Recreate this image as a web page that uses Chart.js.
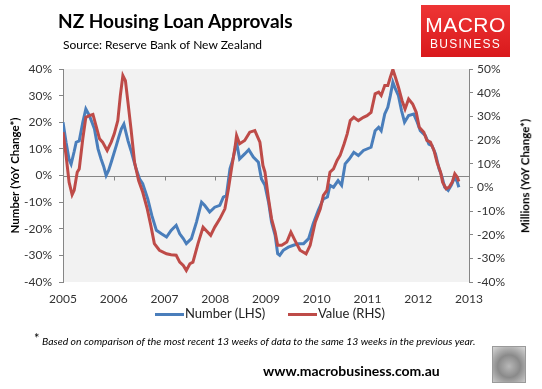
<!DOCTYPE html>
<html>
<head>
<meta charset="utf-8">
<script src="https://cdn.jsdelivr.net/npm/chart.js@4.4.1/dist/chart.umd.min.js"></script>
<style>
  html, body { margin: 0; padding: 0; background: #fff; }
  #wrap { position: relative; width: 542px; height: 389px; overflow: hidden; font-family: Lato, 'Open Sans', sans-serif; }
  #chart { position: absolute; left: 0; top: 0; }
  .txt { position: absolute; white-space: nowrap; line-height: 1; }
  #title { left: 58px; top: 11px; font-size: 19px; font-weight: 700; color: #000; }
  #source { left: 63px; top: 39px; font-size: 12px; color: #000; }
  #logo { position: absolute; left: 421px; top: 5px; width: 89px; height: 52px;
          background: linear-gradient(180deg, #ee3535 0%, #d9191c 100%); color: #fff; text-align: center;
          font-family: 'Liberation Sans', Arial, sans-serif; }
  #logo .l1 { position: absolute; left: 0; right: 0; top: 9px; font-size: 21px; line-height: 1; letter-spacing: 0.5px; }
  #logo .l2 { position: absolute; left: 0; right: 0; top: 33px; font-size: 12px; letter-spacing: 1.3px; line-height: 1; }
  #ytitle2 { left: 525px; top: 176px; font-size: 11.5px; font-weight: 700; color: #000;
             transform: translate(-50%, -50%) rotate(-90deg); }
  #legend { position: absolute; left: 0; top: 307px; width: 542px; height: 16px; font-size: 13px; color: #222; }
  #legend .item { position: absolute; top: 0; white-space: nowrap; }
  #legend .sw { position: absolute; top: 6px; width: 29px; height: 3px; }
  #legend .lb { position: absolute; top: 0; white-space: nowrap; line-height: 1; }
  #note { left: 42px; top: 336px; font-size: 10.4px; font-style: italic; color: #000; }
  #star { left: 34px; top: 332px; font-size: 13px; color: #000; }
  #url { left: 263px; top: 364px; font-size: 14px; font-weight: 700; color: #000; }
  #wolf { position: absolute; left: 492px; top: 346px; width: 32px; height: 35px; border: 1px solid #9a9a9a;
          background: radial-gradient(circle at 50% 55%, #b8b8b8 0%, #8a8a8a 45%, #d8d8d8 100%); }
</style>
</head>
<body>
<div id="wrap">
  <canvas id="chart" width="542" height="389"></canvas>
  <div class="txt" id="title">NZ Housing Loan Approvals</div>
  <div class="txt" id="source">Source: Reserve Bank of New Zealand</div>
  <div id="logo"><div class="l1">MACRO</div><div class="l2">BUSINESS</div></div>
  <div class="txt" id="ytitle2">Millions (YoY Change*)</div>
  <div id="legend"></div>
  <div class="txt" id="star">*</div>
  <div class="txt" id="note">Based on comparison of the most recent 13 weeks of data to the same 13 weeks in the previous year.</div>
  <div class="txt" id="url">www.macrobusiness.com.au</div>
  <div id="wolf"></div>
</div>
<script>
'use strict';

// ─────────────────────────────────────────────
// 1. DATA (YoY % change)
// ─────────────────────────────────────────────
const numberYears = [
  2005.00, 2005.06, 2005.12, 2005.16, 2005.22, 2005.26, 2005.32, 2005.39, 2005.45, 2005.52,
  2005.58, 2005.62, 2005.69, 2005.75, 2005.80, 2005.85, 2005.90, 2005.95, 2006.05, 2006.10,
  2006.15, 2006.20, 2006.28, 2006.34, 2006.44, 2006.51, 2006.57, 2006.67, 2006.75, 2006.84,
  2006.94, 2007.04, 2007.13, 2007.23, 2007.30, 2007.37, 2007.43, 2007.53, 2007.63, 2007.73,
  2007.79, 2007.89, 2007.99, 2008.09, 2008.16, 2008.22, 2008.29, 2008.35, 2008.42, 2008.48,
  2008.58, 2008.66, 2008.75, 2008.85, 2008.91, 2008.98, 2009.05, 2009.11, 2009.18, 2009.23,
  2009.27, 2009.34, 2009.44, 2009.54, 2009.64, 2009.74, 2009.84, 2009.93, 2010.03, 2010.13,
  2010.21, 2010.26, 2010.33, 2010.42, 2010.49, 2010.56, 2010.64, 2010.73, 2010.82, 2010.92,
  2011.07, 2011.15, 2011.22, 2011.27, 2011.34, 2011.40, 2011.45, 2011.50, 2011.55, 2011.61,
  2011.67, 2011.73, 2011.81, 2011.91, 2011.98, 2012.04, 2012.14, 2012.21, 2012.27, 2012.34,
  2012.41, 2012.47, 2012.52, 2012.59, 2012.65, 2012.72, 2012.77, 2012.80,
];
const numberValues = [
  20, 12.5, 6, 4.3, 9, 12.5, 13, 20, 25, 22.5,
  19.5, 17.5, 10, 6.2, 3.5, 0, 2, 5, 11.2, 14.5,
  17.5, 19.3, 13.1, 9.4, 2.5, -1.3, -3.1, -8.8, -15, -20.6,
  -21.9, -23.1, -20.6, -18.7, -21.9, -23.7, -25.6, -23.7, -17.5, -10,
  -11.2, -13.7, -11.9, -11.2, -8.1, -7.5, 2.5, 6.2, 12.5, 6.2,
  8.1, 9.7, 6.9, 5.0, -1.3, -3.7, -10, -17.5, -22.5, -29.4,
  -30, -28.1, -26.9, -26.2, -25.6, -25.6, -23.7, -18.1, -13.1, -8.8,
  -8.1, -3.7, -4.4, -1.9, -3.7, 4.4, 6.2, 8.7, 7.5, 9.4,
  10.6, 16.8, 18.1, 16.8, 23.1, 25.6, 30, 35, 32.5, 30,
  24.4, 20, 22.5, 23.1, 20, 16.8, 15, 11.8, 11.2, 8.1,
  2.5, -0.6, -4.4, -5.6, -3.7, -0.6, -2.5, -4.4,
];

const valueYears = [
  2005.00, 2005.06, 2005.12, 2005.18, 2005.22, 2005.28, 2005.32, 2005.39, 2005.45, 2005.52,
  2005.59, 2005.65, 2005.72, 2005.78, 2005.87, 2005.95, 2006.01, 2006.08, 2006.13, 2006.18,
  2006.23, 2006.28, 2006.34, 2006.41, 2006.49, 2006.57, 2006.66, 2006.73, 2006.80, 2006.90,
  2007.04, 2007.13, 2007.23, 2007.30, 2007.37, 2007.43, 2007.50, 2007.56, 2007.66, 2007.76,
  2007.82, 2007.91, 2007.99, 2008.09, 2008.19, 2008.26, 2008.32, 2008.39, 2008.42, 2008.48,
  2008.58, 2008.68, 2008.78, 2008.88, 2008.94, 2008.98, 2009.05, 2009.11, 2009.18, 2009.23,
  2009.31, 2009.41, 2009.49, 2009.57, 2009.67, 2009.79, 2009.87, 2009.97, 2010.07, 2010.13,
  2010.20, 2010.26, 2010.33, 2010.40, 2010.46, 2010.54, 2010.60, 2010.66, 2010.73, 2010.82,
  2010.92, 2010.99, 2011.07, 2011.15, 2011.22, 2011.27, 2011.34, 2011.40, 2011.45, 2011.50,
  2011.55, 2011.61, 2011.68, 2011.74, 2011.81, 2011.89, 2011.96, 2012.02, 2012.11, 2012.17,
  2012.24, 2012.31, 2012.37, 2012.44, 2012.48, 2012.55, 2012.61, 2012.67, 2012.72, 2012.77,
  2012.80,
];
const valueValues = [
  23.3, 13.5, 2.2, -3.1, -1.3, 6.4, 7.8, 20.5, 29.6, 30.3,
  30.8, 26.1, 20.5, 19.1, 15.6, 19.1, 22.6, 28.2, 38.8, 47.2,
  45.1, 35.9, 24.7, 10.6, 2.9, -2.0, -9.1, -16.1, -23.8, -26.6,
  -28.1, -28.5, -28.7, -31.6, -33, -35.1, -32.3, -31.6, -23.8, -16.8,
  -18.2, -20.3, -16.8, -13.3, -9.1, -0.6, 7.8, 17.0, 21.9, 18.4,
  19.8, 23.3, 24.0, 19.1, 9.2, 6.4, -4.9, -13.3, -18.9, -24.5,
  -24.5, -23.1, -18.9, -22.4, -26.6, -28.1, -24.5, -14.7, -9.1, -3.4,
  -1.3, 6.4, 7.8, 11.4, 13.5, 18.4, 22.6, 28.2, 29.6, 28.2,
  29.6, 30.3, 31.7, 39.5, 40.2, 38.8, 43.0, 43.0, 46.5, 49.8,
  46.5, 42.3, 36.7, 33.1, 37.3, 35.2, 31.7, 25.4, 23.3, 19.8,
  19.1, 15.6, 10.6, 6.4, 2.2, -0.6, 0.1, 2.2, 5.7, 4.3,
  2.5,
];

const yearTicks = [2005, 2006, 2007, 2008, 2009, 2010, 2011, 2012, 2013];

const seriesLabels = ['Number (LHS)', 'Value (RHS)'];
const seriesColors = ['#4a7ebb', '#be4b48'];

// ─────────────────────────────────────────────
// 2. HELPERS
// ─────────────────────────────────────────────
const toPoints = (xs, ys) => xs.map((x, i) => ({ x, y: ys[i] }));
const pct = (v) => `${v}%`;
const AXIS_GREY = '#868686';
const TICK_FONT = { family: 'Lato', size: 12 };

// plot background + zero line with year ticks
const plotDecor = {
  id: 'plotDecor',
  beforeDraw(chart) {
    const { ctx, chartArea: a } = chart;
    ctx.save();
    ctx.fillStyle = '#f2f2f2';
    ctx.fillRect(a.left, a.top, a.right - a.left, a.bottom - a.top);
    ctx.restore();
  },
  beforeDatasetsDraw(chart) {
    const { ctx, chartArea: a, scales } = chart;
    const y0 = Math.round(scales.y.getPixelForValue(0)) + 0.5;
    ctx.save();
    ctx.strokeStyle = AXIS_GREY;
    ctx.lineWidth = 1;
    ctx.beginPath();
    ctx.moveTo(a.left, y0);
    ctx.lineTo(a.right, y0);
    yearTicks.forEach((yr) => {
      const x = Math.round(scales.x.getPixelForValue(yr)) + 0.5;
      ctx.moveTo(x, y0);
      ctx.lineTo(x, y0 + 4);
    });
    ctx.stroke();
    ctx.restore();
  },
};

// ─────────────────────────────────────────────
// 3. LINE CHART
// ─────────────────────────────────────────────
(function initChart() {
  const canvas = document.getElementById('chart');

  new Chart(canvas.getContext('2d'), {
    type: 'line',
    data: {
      datasets: [
        {
          label: seriesLabels[0],
          data: toPoints(numberYears, numberValues),
          yAxisID: 'y',
          borderColor: seriesColors[0],
          borderWidth: 3,
          pointRadius: 0,
          tension: 0,
          order: 1,
        },
        {
          label: seriesLabels[1],
          data: toPoints(valueYears, valueValues),
          yAxisID: 'y1',
          borderColor: seriesColors[1],
          borderWidth: 3,
          pointRadius: 0,
          tension: 0,
          order: 0,
        },
      ],
    },
    options: {
      responsive: false,
      animation: false,
      layout: { padding: { top: 69, left: 0, right: 0, bottom: 0 } },
      plugins: {
        legend: { display: false },
        tooltip: { enabled: false },
      },
      scales: {
        x: {
          type: 'linear',
          min: 2005,
          max: 2013,
          afterBuildTicks: (s) => { s.ticks = yearTicks.map((v) => ({ value: v })); },
          afterFit: (s) => { s.height = 107; },
          grid: { display: false, drawTicks: false },
          border: { display: false },
          ticks: { font: TICK_FONT, color: '#333', padding: 10, maxRotation: 0, callback: (v) => String(v) },
        },
        y: {
          position: 'left',
          min: -40,
          max: 40,
          afterFit: (s) => { s.width = 63; },
          grid: { drawOnChartArea: false, tickLength: 4, tickColor: AXIS_GREY },
          border: { color: AXIS_GREY },
          ticks: { stepSize: 10, font: TICK_FONT, color: '#333', padding: 7, callback: pct },
          title: {
            display: true,
            text: 'Number (YoY Change*)',
            font: { family: 'Lato', size: 11.5, weight: '700' },
            color: '#000',
            padding: { top: 8, bottom: 0 },
          },
        },
        y1: {
          position: 'right',
          min: -40,
          max: 50,
          afterFit: (s) => { s.width = 73; },
          grid: { drawOnChartArea: false, tickLength: 4, tickColor: AXIS_GREY },
          border: { color: AXIS_GREY },
          ticks: { stepSize: 10, font: TICK_FONT, color: '#333', padding: 4, callback: pct },
        },
      },
    },
    plugins: [plotDecor],
  });
})();

// ─────────────────────────────────────────────
// 4. LEGEND
// ─────────────────────────────────────────────
(function buildLegend() {
  const legend = document.getElementById('legend');
  const starts = [155, 288];
  seriesLabels.forEach((label, i) => {
    const item = document.createElement('div');
    item.className = 'item';
    item.style.left = `${starts[i]}px`;
    item.innerHTML =
      `<span class="sw" style="left:0;background:${seriesColors[i]}"></span>` +
      `<span class="lb" style="left:30px">${label}</span>`;
    legend.appendChild(item);
  });
})();
</script>
</body>
</html>
